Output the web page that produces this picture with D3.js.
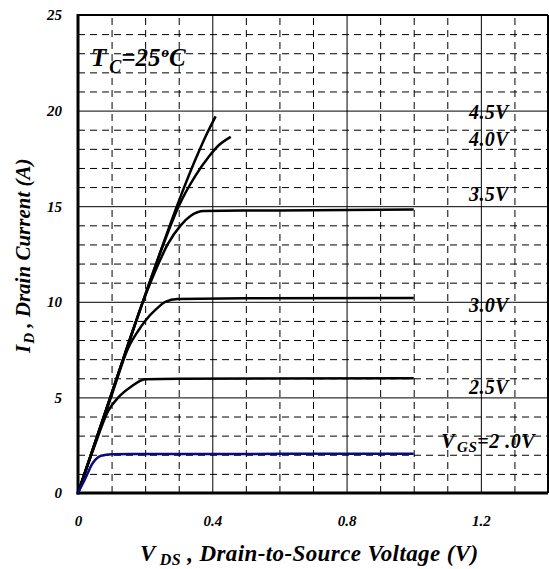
<!DOCTYPE html>
<html>
<head>
<meta charset="utf-8">
<script src="https://cdn.jsdelivr.net/npm/d3@7"></script>
<style>
  html, body { margin: 0; padding: 0; background: #fff; }
  text { font-family: "Liberation Serif", "Times New Roman", serif; font-weight: bold; font-style: italic; }
</style>
</head>
<body>
<div id="chart"></div>
<script>
// axis ticks
const xTicks = [0, 0.4, 0.8, 1.2];
const yTicks = [0, 5, 10, 15, 20, 25];
const xMinor = [0.1, 0.2, 0.3, 0.5, 0.6, 0.7, 0.9, 1.0, 1.1, 1.3];
const yMinor = [1, 2, 3, 4, 6, 7, 8, 9, 11, 12, 13, 14, 16, 17, 18, 19, 21, 22, 23, 24];

// curves, [VDS, ID]
const vgs20 = [[0, 0], [0.02, 0.7], [0.044, 1.57], [0.069, 1.95], [0.1, 2.03], [0.2, 2.04], [1.0, 2.05]];
const vgs25 = [[0, 0], [0.05, 2.5], [0.09, 4.3], [0.12, 5.0], [0.158, 5.56], [0.2, 5.95], [0.3, 5.98], [1.0, 6.0]];
const vgs30 = [[0, 0], [0.1, 5.1], [0.15, 7.6], [0.18, 8.5], [0.2, 9.0], [0.232, 9.6], [0.26, 10.0], [0.296, 10.15], [0.5, 10.18], [1.0, 10.2]];
const vgs35 = [[0, 0], [0.1, 5.2], [0.2, 10.3], [0.24, 12.0], [0.267, 13.0], [0.306, 14.0], [0.336, 14.5], [0.375, 14.75], [0.6, 14.78], [1.0, 14.83]];
const vgs40 = [[0, 0], [0.1, 5.2], [0.2, 10.35], [0.25, 12.8], [0.3, 15.0], [0.35, 16.6], [0.39, 17.6], [0.42, 18.2], [0.455, 18.63]];
const vgs45 = [[0, 0], [0.1, 5.2], [0.2, 10.35], [0.25, 12.85], [0.3, 15.25], [0.35, 17.45], [0.38, 18.65], [0.41, 19.7]];

const curveLabels = ["4.5V", "4.0V", "3.5V", "3.0V", "2.5V"];

const width = 549, height = 569;
const margin = { top: 15, right: 1, bottom: 76, left: 78 };
const innerW = width - margin.left - margin.right;
const innerH = height - margin.top - margin.bottom;

const svg = d3.select("#chart").append("svg")
  .attr("width", width)
  .attr("height", height);

const g = svg.append("g")
  .attr("transform", `translate(${margin.left},${margin.top})`);

const x = d3.scaleLinear().domain([0, 1.4]).range([0, innerW]);
const y = d3.scaleLinear().domain([0, 25]).range([innerH, 0]);

// dashed minor grid
g.append("g")
  .attr("transform", `translate(0,${innerH})`)
  .call(d3.axisBottom(x).tickValues(xMinor).tickSize(-innerH).tickFormat(""))
  .call(a => a.select(".domain").remove())
  .selectAll("line")
  .attr("stroke", "#000")
  .attr("stroke-dasharray", "7,5");

g.append("g")
  .call(d3.axisLeft(y).tickValues(yMinor).tickSize(-innerW).tickFormat(""))
  .call(a => a.select(".domain").remove())
  .selectAll("line")
  .attr("stroke", "#000")
  .attr("stroke-dasharray", "7,5");

// solid major grid + tick labels
const xAxis = g.append("g")
  .attr("transform", `translate(0,${innerH})`)
  .call(d3.axisBottom(x).tickValues(xTicks).tickSize(-innerH).tickPadding(22)
    .tickFormat(d => d === 0 ? "0" : d3.format(".1f")(d)));
xAxis.select(".domain").remove();
xAxis.selectAll("line").attr("stroke", "#000");
xAxis.selectAll("text")
  .attr("font-size", 15)
  .attr("font-family", "Liberation Serif")
  .attr("fill", "#000");

const yAxis = g.append("g")
  .call(d3.axisLeft(y).tickValues(yTicks).tickSize(-innerW).tickPadding(16));
yAxis.select(".domain").remove();
yAxis.selectAll("line").attr("stroke", "#000");
yAxis.selectAll("text")
  .attr("font-size", 15)
  .attr("font-family", "Liberation Serif")
  .attr("fill", "#000");

// frame
g.append("line").attr("x1", 0).attr("x2", innerW).attr("y1", 0).attr("y2", 0)
  .attr("stroke", "#000").attr("stroke-width", 2);
g.append("line").attr("x1", innerW).attr("x2", innerW).attr("y1", 0).attr("y2", innerH)
  .attr("stroke", "#000").attr("stroke-width", 2);
g.append("line").attr("x1", 0).attr("x2", 0).attr("y1", -1).attr("y2", innerH + 1.5)
  .attr("stroke", "#000").attr("stroke-width", 3);
g.append("line").attr("x1", -1.5).attr("x2", innerW).attr("y1", innerH).attr("y2", innerH)
  .attr("stroke", "#000").attr("stroke-width", 3);

// curves
const line = d3.line()
  .x(d => x(d[0]))
  .y(d => y(d[1]))
  .curve(d3.curveMonotoneX);

[vgs45, vgs40, vgs35, vgs30, vgs25].forEach(s => {
  g.append("path")
    .datum(s)
    .attr("fill", "none")
    .attr("stroke", "#000")
    .attr("stroke-width", 2.5)
    .attr("d", line);
});

g.append("path")
  .datum(vgs20)
  .attr("fill", "none")
  .attr("stroke", "#0a0a80")
  .attr("stroke-width", 2.5)
  .attr("d", line);

// curve labels
const labelPos = [[1.165, 19.56], [1.165, 18.15], [1.165, 15.27], [1.165, 9.47], [1.165, 5.18]];
curveLabels.forEach((t, i) => {
  g.append("text")
    .attr("x", x(labelPos[i][0]))
    .attr("y", y(labelPos[i][1]))
    .attr("font-size", 20)
    .attr("letter-spacing", 0.3)
    .text(t);
});

const vgsText = g.append("text")
  .attr("x", x(1.082))
  .attr("y", y(2.35))
  .attr("font-size", 20)
  .attr("letter-spacing", 0.5);
vgsText.append("tspan").text("V");
vgsText.append("tspan").attr("font-size", 15).attr("dy", 4).attr("dx", 2).text("GS");
vgsText.append("tspan").attr("dy", -4).text("=2 .0V");

// temperature note
const tc = g.append("text")
  .attr("x", 13)
  .attr("y", 51)
  .attr("font-size", 25);
tc.append("tspan").text("T");
tc.append("tspan").attr("font-size", 18).attr("dy", 7).attr("dx", 3).text("C");
tc.append("tspan").attr("dy", -7).text("=25");
tc.append("tspan").attr("font-size", 15).attr("dy", -9).attr("dx", 1).text("o");
tc.append("tspan").attr("dy", 9).text("C");

// axis titles
const xt = svg.append("text")
  .attr("x", 140)
  .attr("y", 561)
  .attr("font-size", 23)
  .attr("letter-spacing", 0.4);
xt.append("tspan").text("V");
xt.append("tspan").attr("font-size", 16).attr("dy", 4).attr("dx", 4).text("DS");
xt.append("tspan").attr("dy", -4).text(" , Drain-to-Source Voltage (V)");

const yt = svg.append("text")
  .attr("transform", "translate(30,353) rotate(-90)")
  .attr("font-size", 21);
yt.append("tspan").text("I");
yt.append("tspan").attr("font-size", 15).attr("dy", 4).attr("dx", 1).text("D");
yt.append("tspan").attr("dy", -4).text(" , Drain Current (A)");
</script>
</body>
</html>
